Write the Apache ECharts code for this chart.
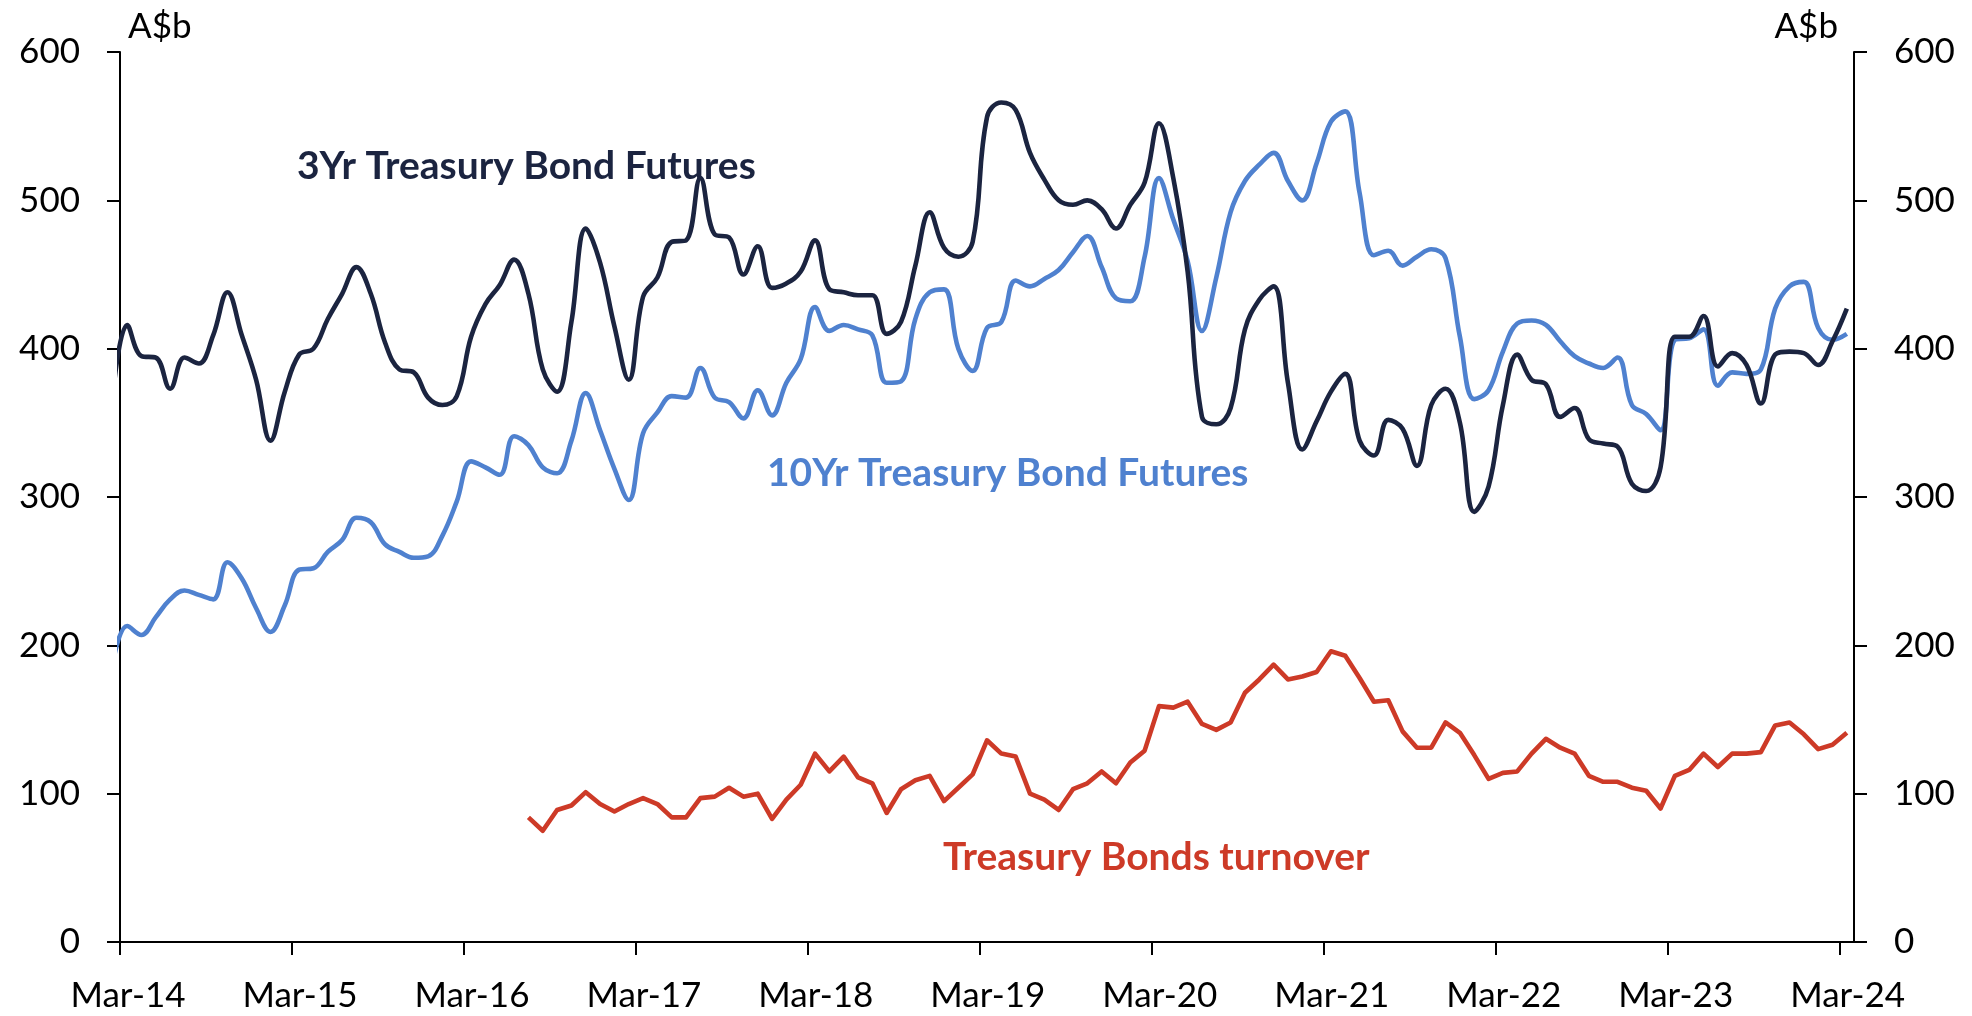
<!DOCTYPE html>
<html><head><meta charset="utf-8">
<script src="https://cdn.jsdelivr.net/npm/echarts@6.0.0/dist/echarts.min.js"></script>
<style>html,body{margin:0;padding:0;background:#fff}#chart{width:1972px;height:1016px}</style>
</head><body><div id="chart"></div>
<script>
// x axis: months since Mar-14; one tick label per year
const tickLabels = ['Mar-14','Mar-15','Mar-16','Mar-17','Mar-18','Mar-19','Mar-20','Mar-21','Mar-22','Mar-23','Mar-24'];

// monthly observations (plotted mid-month), futures series start Feb-14
const futuresStartMonth = -1;
const futures3yr = [
  368,416,395,394,373,394,390,409,438,409,379,338,371,396,400,420,437,455,437,404,
  386,384,367,362,368,408,430,443,460,437,386,371,418,481,458,415,379,435,448,472,
  473,515,477,475,450,469,441,444,452,473,440,438,436,436,410,418,456,492,468,462,
  472,556,566,561,532,514,500,497,500,494,481,497,512,552,515,452,354,349,360,413,
  433,442,377,332,351,371,383,338,328,352,346,321,362,373,350,290,307,362,396,379,
  376,354,360,339,336,334,309,304,320,408,408,422,388,397,389,363,396,398,397,389,
  405,427
];
const futures10yr = [
  188,213,207,219,231,237,234,231,256,245,225,209,227,251,252,263,271,286,283,268,
  263,259,260,274,297,324,320,315,341,335,320,316,338,370,345,319,298,343,357,368,
  367,387,367,364,353,372,355,377,393,428,412,416,413,409,377,378,420,438,440,400,
  385,414,418,446,442,447,453,465,476,455,434,432,462,515,487,459,412,448,492,513,
  524,532,513,500,525,553,560,505,463,466,456,462,467,461,408,366,372,398,417,419,
  416,405,395,390,387,394,362,356,345,406,407,413,375,384,383,386,427,442,445,414,
  406,410
];
// Treasury bonds turnover starts Jul-16
const turnoverStartMonth = 28;
const bondsTurnover = [
  84,75,89,92,101,93,88,93,97,93,84,84,97,98,104,98,100,83,96,106,
  127,115,125,111,107,87,103,109,112,95,104,113,136,127,125,100,96,89,103,107,
  115,107,121,129,
  159,158,162,147,143,148,168,177,187,177,179,182,196,193,178,162,163,142,131,131,
  148,141,126,110,114,115,127,137,131,127,112,108,108,104,102,90,112,116,127,118,
  127,127,128,146,148,140,130,133,141
];

const yTicks = [0,100,200,300,400,500,600];

const C3 = '#1b2440', C10 = '#4f81cf', CR = '#cd3a27';
const toPoints = (arr, start) => arr.map((v, i) => [start + i + 0.5, v]);
const tickValues = tickLabels.map((_, i) => i * 12);

const chart = echarts.init(document.getElementById('chart'), null, {renderer: 'canvas'});
const axisFont = {fontFamily: 'Lato', fontSize: 35, color: '#000'};
const yAxisBase = {
  type: 'value', min: yTicks[0], max: yTicks[yTicks.length - 1], interval: 100,
  axisLine: {show: true, lineStyle: {color: '#000', width: 2}},
  axisTick: {show: true, length: 13, inside: false, lineStyle: {color: '#000', width: 2}},
  splitLine: {show: false},
  axisLabel: Object.assign({margin: 40}, axisFont),
  name: 'A$b', nameLocation: 'end', nameGap: 8,
};
chart.setOption({
  animation: false,
  backgroundColor: '#fff',
  grid: {left: 120, right: 118, top: 52, bottom: 74, containLabel: false},
  xAxis: {
    type: 'value', min: 0, max: 121, interval: 12,
    axisLine: {show: true, onZero: false, lineStyle: {color: '#000', width: 2}},
    axisTick: {show: true, length: 13, inside: false, customValues: tickValues, lineStyle: {color: '#000', width: 2}},
    splitLine: {show: false},
    axisLabel: Object.assign({margin: 36, customValues: tickValues, padding: [0, 0, 0, 16],
      formatter: v => tickLabels[Math.round(v / 12)] || ''}, axisFont),
  },
  yAxis: [
    Object.assign({}, yAxisBase, {position: 'left',
      nameTextStyle: Object.assign({align: 'left', padding: [0, 0, 0, 8]}, axisFont)}),
    Object.assign({}, yAxisBase, {position: 'right',
      nameTextStyle: Object.assign({align: 'right', padding: [0, 16, 0, 0]}, axisFont)}),
  ],
  series: [
    {name: '3Yr Treasury Bond Futures', type: 'line', data: toPoints(futures3yr, futuresStartMonth),
      smooth: 0.4, showSymbol: false, clip: true, lineStyle: {color: C3, width: 4.6}, itemStyle: {color: C3}, z: 3},
    {name: '10Yr Treasury Bond Futures', type: 'line', data: toPoints(futures10yr, futuresStartMonth),
      smooth: 0.4, showSymbol: false, clip: true, lineStyle: {color: C10, width: 4.6}, itemStyle: {color: C10}, z: 2},
    {name: 'Treasury Bonds turnover', type: 'line', data: toPoints(bondsTurnover, turnoverStartMonth),
      smooth: false, showSymbol: false, clip: true, lineStyle: {color: CR, width: 4.6, join: 'round'}, itemStyle: {color: CR}, z: 2},
  ],
  graphic: [
    {type: 'text', left: 297, top: 147, style: {text: '3Yr Treasury Bond Futures', fill: C3, font: 'bold 39px Lato'}},
    {type: 'text', left: 767, top: 454, style: {text: '10Yr Treasury Bond Futures', fill: C10, font: 'bold 39px Lato'}},
    {type: 'text', left: 943, top: 838, style: {text: 'Treasury Bonds turnover', fill: CR, font: 'bold 39px Lato'}},
  ],
});
</script>
</body></html>
